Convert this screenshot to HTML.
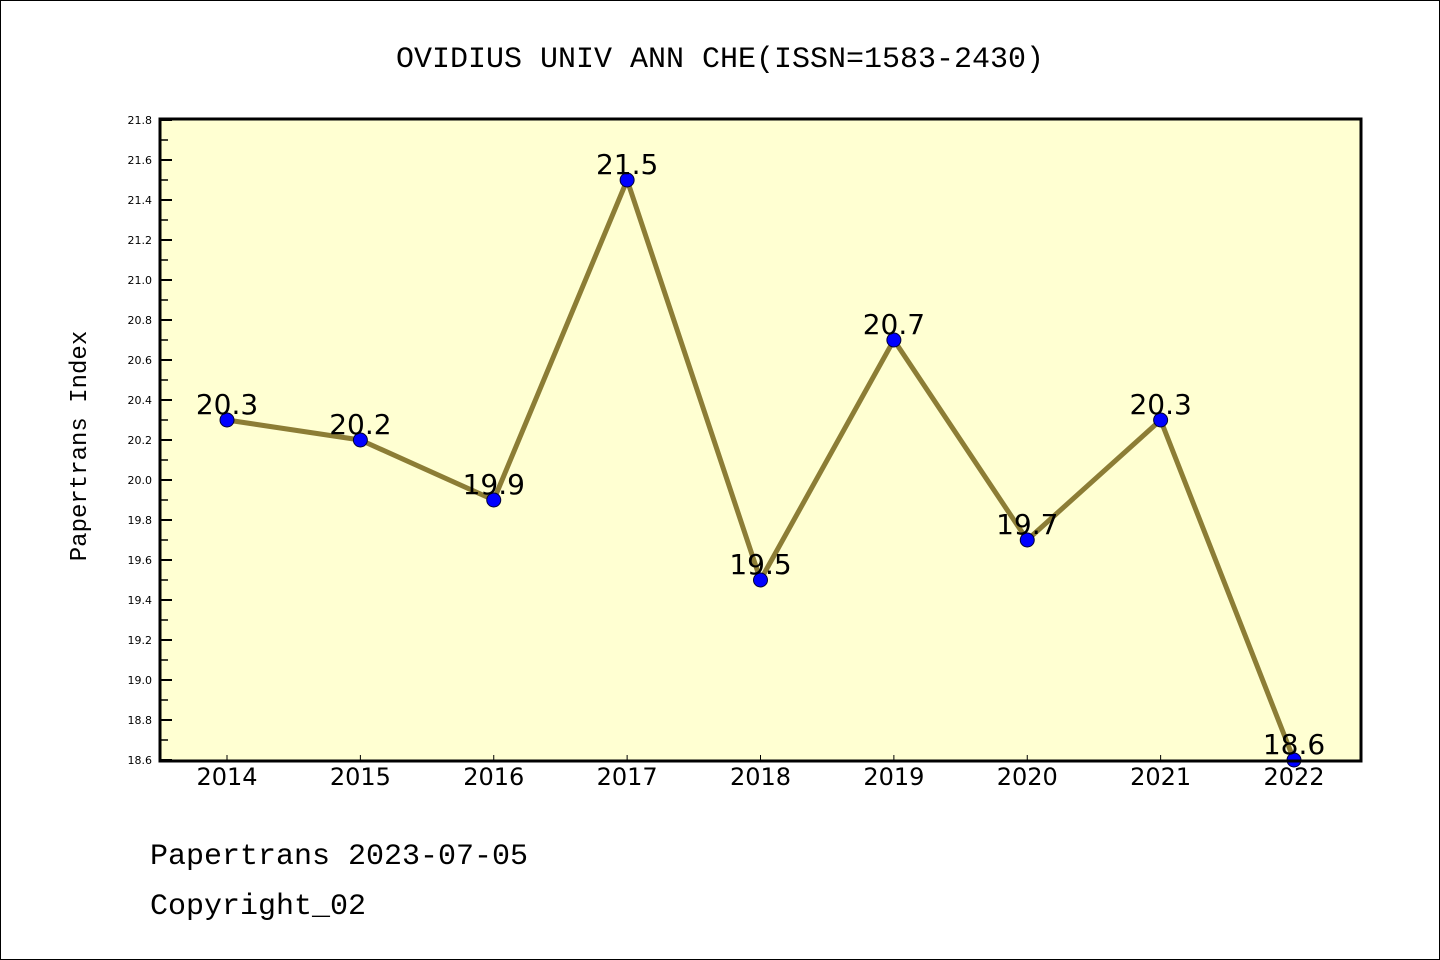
<!DOCTYPE html>
<html><head><meta charset="utf-8"><style>
html,body{margin:0;padding:0;background:#fff;}
svg{display:block;font-family:"Liberation Mono","WenQuanYi Zen Hei",monospace;}
</style></head><body>
<svg id="chart" width="1440" height="960" xmlns="http://www.w3.org/2000/svg">
<rect x="0.5" y="0.5" width="1439" height="959" fill="#fff" stroke="#000"/>
<text x="720" y="67" font-size="30" text-anchor="middle">OVIDIUS UNIV ANN CHE(ISSN=1583-2430)</text>
<rect x="160" y="119" width="1201" height="642" fill="#ffffd2"/>
<g id="yaxis"></g>
<g id="xaxis"></g>
<g id="series"></g>
<rect x="160" y="119" width="1201" height="642" fill="none" stroke="#000" stroke-width="3"/>
<text x="86" y="446" font-size="24" text-anchor="middle" transform="rotate(-90 86 446)">Papertrans Index</text>
<text x="150" y="864" font-size="30">Papertrans 2023-07-05</text>
<text x="150" y="914" font-size="30">Copyright_02</text>
</svg>
<script>
const years = ["2014","2015","2016","2017","2018","2019","2020","2021","2022"];
const values = [20.3,20.2,19.9,21.5,19.5,20.7,19.7,20.3,18.6];
const yTickLabels = ["18.6","18.8","19.0","19.2","19.4","19.6","19.8","20.0","20.2","20.4","20.6","20.8","21.0","21.2","21.4","21.6","21.8"];
const yMin = 18.6, yMax = 21.8;
const NS = "http://www.w3.org/2000/svg";
function yPos(v){ return 760 - (v - yMin) / (yMax - yMin) * 640; }
function xPos(i){ return 227 + i * (1294 - 227) / (years.length - 1); }
function mk(tag, attrs, parent){ const e = document.createElementNS(NS, tag); for (const k in attrs) e.setAttribute(k, attrs[k]); parent.appendChild(e); return e; }
const ya = document.getElementById('yaxis'), xa = document.getElementById('xaxis'), se = document.getElementById('series');
yTickLabels.forEach((t, i) => {
  const y = yPos(parseFloat(t));
  const tk = mk('line', {x1:160, x2:172, y1:y, y2:y, stroke:'#000', 'stroke-width':2}, ya);
  
  
  const lb = mk('text', {x:152, y:y+4, 'font-size':11, 'text-anchor':'end', 'font-family':'"DejaVu Sans",sans-serif'}, ya);
  lb.textContent = t;
  
  
  if (i < yTickLabels.length - 1) {
    const ym = yPos(parseFloat(t) + 0.1);
    const mn = mk('line', {x1:160, x2:168, y1:ym, y2:ym, stroke:'#000', 'stroke-width':1.5}, ya);
    
    
  }
});
years.forEach((yr, i) => {
  const x = xPos(i);
  const tk = mk('line', {x1:x, x2:x, y1:761, y2:755, stroke:'#000', 'stroke-width':1}, xa);
  
  
  const lb = mk('text', {x:x, y:785, 'font-size':24, 'text-anchor':'middle', 'font-family':'"DejaVu Sans",sans-serif'}, xa);
  lb.textContent = yr;
  
  
});
const pts = values.map((v, i) => xPos(i) + ',' + yPos(v)).join(' ');
const pl = mk('polyline', {points:pts, fill:'none', stroke:'#8c7d35', 'stroke-width':5, 'stroke-linejoin':'round'}, se);


values.forEach((v, i) => {
  const c = mk('circle', {cx:xPos(i), cy:yPos(v), r:7, fill:'#0000ff', stroke:'#000033', 'stroke-width':1}, se);
  
  
});
values.forEach((v, i) => {
  const t = mk('text', {x:xPos(i), y:yPos(v) - 6, 'font-size':28, 'text-anchor':'middle', 'font-family':'"DejaVu Sans",sans-serif'}, se);
  t.textContent = v.toFixed(1);
  
  
});
</script>
</body></html>
